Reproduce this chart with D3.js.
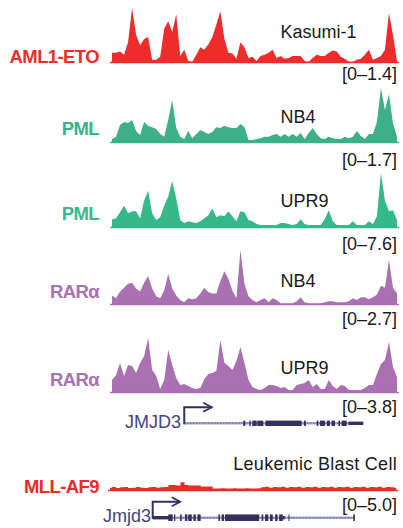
<!DOCTYPE html>
<html>
<head>
<meta charset="utf-8">
<script src="https://cdn.jsdelivr.net/npm/d3@7"></script>
<style>
  body { margin: 0; background: #fff; }
  text { font-family: "Liberation Sans", Arial, Helvetica, sans-serif; }
</style>
</head>
<body>
<svg id="chart" width="403" height="528"></svg>
<script>
// signal per bin, 72 bins across the locus
const aml1EtoKasumi = [0.26,0.26,0.29,0.21,0.53,1.40,0.71,0.45,0.61,0.66,0.08,0.08,0.16,0.87,1.06,0.79,1.24,0.18,0.34,0.05,0.03,0.21,0.40,0.34,0.48,0.66,0.98,1.32,0.61,0.26,0.24,0.11,0.53,0.40,0.13,0.16,
  0.05,0.18,0.21,0.26,0.34,0.13,0.18,0.11,0.13,0.18,0.18,0.18,0.05,0.03,0.13,0.21,0.18,0.18,0.26,0.32,0.29,0.16,0.11,0.03,0.01,0.08,0.11,0.21,0.34,0.08,0.13,0.18,0.34,1.27,0.71,0.05];
const pmlNb4 = [0.12,0.19,0.56,0.65,0.62,0.71,0.37,0.25,0.65,0.53,0.49,0.43,0.28,0.19,0.71,1.33,0.46,0.19,0.12,0.37,0.15,0.28,0.40,0.34,0.28,0.34,0.49,0.46,0.53,0.49,0.46,0.46,0.59,0.49,0.09,0.09,
  0.12,0.15,0.19,0.19,0.25,0.28,0.19,0.28,0.19,0.28,0.19,0.31,0.12,0.31,0.46,0.28,0.15,0.12,0.19,0.15,0.12,0.12,0.19,0.15,0.19,0.37,0.22,0.12,0.28,0.28,0.65,1.70,1.02,1.51,0.62,0.19];
const pmlUpr9 = [1.22,1.36,2.17,3.12,2.04,2.31,2.31,1.36,3.80,5.16,2.04,1.09,1.49,3.12,4.34,6.51,4.07,1.09,0.68,0.95,0.81,0.68,0.95,1.36,1.76,2.71,1.49,1.76,1.63,2.31,1.63,0.95,2.31,2.17,1.09,0.95,
  0.54,0.41,0.41,0.41,0.41,0.41,0.68,0.68,0.54,0.41,0.54,1.22,0.54,0.41,0.41,0.41,0.41,1.22,2.44,0.95,0.41,0.41,0.41,0.41,0.95,0.41,0.41,0.41,0.95,0.54,1.63,7.60,3.80,2.31,2.44,1.09];
const raraNb4 = [0.47,0.33,0.66,0.85,1.04,1.09,0.81,0.66,1.09,1.42,0.81,0.43,0.33,0.71,1.52,0.81,0.47,0.24,0.14,0.33,0.28,0.33,0.57,0.85,0.62,0.57,0.57,1.18,1.66,1.28,0.71,0.33,2.70,1.04,0.43,0.24,
  0.14,0.24,0.33,0.14,0.33,0.24,0.09,0.09,0.09,0.09,0.19,0.38,0.14,0.09,0.09,0.09,0.09,0.14,0.19,0.19,0.14,0.14,0.14,0.19,0.33,0.24,0.38,0.38,0.28,0.38,0.52,0.95,0.85,2.23,0.85,0.57];
const raraUpr9 = [0.90,1.24,2.07,1.17,1.93,1.87,1.38,2.07,2.56,3.80,1.59,1.17,0.28,0.90,2.97,1.93,1.04,0.55,0.62,0.48,0.35,0.28,0.35,0.97,1.31,1.38,1.52,3.66,2.07,1.87,1.59,2.21,3.18,2.07,0.90,0.41,
  0.28,0.21,0.35,0.55,0.55,0.48,0.35,0.41,0.21,0.21,0.55,0.62,0.69,0.90,0.41,0.62,0.28,0.28,0.90,0.48,0.28,0.55,0.48,0.21,0.21,0.21,0.21,0.35,0.55,0.55,1.31,2.00,2.28,3.52,1.80,1.11];
const mllAf9Blast = [0.30,0.36,0.27,0.33,0.36,0.27,0.30,0.36,0.30,0.27,0.33,0.36,0.30,0.33,0.36,0.55,0.55,0.50,0.80,0.55,0.50,0.50,0.50,0.42,0.42,0.42,0.22,0.22,0.25,0.22,0.22,0.25,0.22,0.22,0.25,0.22,
  0.22,0.25,0.33,0.38,0.30,0.36,0.33,0.38,0.30,0.36,0.33,0.38,0.30,0.36,0.33,0.38,0.30,0.36,0.33,0.38,0.30,0.36,0.33,0.38,0.30,0.36,0.33,0.38,0.30,0.36,0.33,0.38,0.30,0.36,0.33,0.30];

const factors = ['AML1-ETO', 'PML', 'PML', 'RARα', 'RARα', 'MLL-AF9'];
const cells = ['Kasumi-1', 'NB4', 'UPR9', 'NB4', 'UPR9', 'Leukemic Blast Cell'];
const rangeMax = [1.4, 1.7, 7.6, 2.7, 3.8, 5.0];
const rangeLabels = ['[0–1.4]', '[0–1.7]', '[0–7.6]', '[0–2.7]', '[0–3.8]', '[0–5.0]'];
const trackValues = [aml1EtoKasumi, pmlNb4, pmlUpr9, raraNb4, raraUpr9, mllAf9Blast];

// gene models, in bin units
const jmjd3Span = [18.5, 63.1];
const jmjd3Exons = [[33.2,33.7],[34.7,35.05],[35.45,36.55],[36.7,38.2],[38.7,47.75],[48.3,48.8],[51.5,51.9],[52.3,53.55],[54.0,54.8],[55.2,56.05],[56.9,57.3],[57.7,58.95]];
const jmjd3Utr = [[59.4,63.1]];
const mouseSpan = [11.1, 61.2];
const mouseExons = [[14.97,16.06],[16.4,16.7],[17.9,18.3],[19.1,19.7],[19.9,20.8],[21.2,21.8],[22.2,23.0],[27.4,27.8],[28.2,28.8],[29.05,37.55],[38.15,38.55],[39.0,39.8],[40.2,40.9],[41.5,42.1],[42.5,43.4],[44.8,45.0],[60.9,61.3]];
const mouseUtr = [[11.1,15.4],[43.4,43.9]];

const colors = ['#ee2c2c', '#3bb089', '#35b98a', '#a971b1', '#a971b1', '#ec2a2a'];
const geneColor = '#33325f';

const svg = d3.select('#chart');
const trackBase = [63, 143, 228, 305, 393, 491];
const labelBase = [62.7, 135, 220, 298, 386, 492.7];
const cellBase = [38.3, 122.7, 206.7, 286.7, 374, 470];
const rangeBase = [79.5, 166, 250, 325.3, 413.3, 510.7];
const trackH = 55;

const xTop = d3.scaleLinear().domain([0, 72]).range([110, 399]);
const xBlast = d3.scaleLinear().domain([0, 72]).range([108, 398]);

trackValues.forEach((vals, t) => {
  const x = t === 5 ? xBlast : xTop;
  const y = d3.scaleLinear().domain([0, rangeMax[t]]).range([trackBase[t], trackBase[t] - trackH]);
  const g = svg.append('g').attr('class', 'track');

  const area = d3.area()
    .curve(t === 5 ? d3.curveStep : d3.curveLinear)
    .x((d, i) => x(i + 0.5))
    .y0(trackBase[t])
    .y1(d => Math.min(y(d), trackBase[t] - 1.2));

  g.append('path')
    .datum(vals)
    .attr('d', area)
    .attr('fill', colors[t]);

  g.append('line')
    .attr('x1', x(0)).attr('x2', x(72))
    .attr('y1', trackBase[t] - 0.5).attr('y2', trackBase[t] - 0.5)
    .attr('stroke', colors[t])
    .attr('stroke-width', 1.5);

  g.append('text')
    .attr('x', 99)
    .attr('y', labelBase[t])
    .attr('text-anchor', 'end')
    .attr('font-weight', 'bold')
    .attr('font-size', '18.5px')
    .attr('letter-spacing', '-0.6px')
    .attr('fill', colors[t])
    .text(factors[t]);

  g.append('text')
    .attr('x', t === 5 ? 397 : 280.5)
    .attr('y', cellBase[t])
    .attr('text-anchor', t === 5 ? 'end' : 'start')
    .attr('font-size', '18px')
    .attr('letter-spacing', t === 5 ? '0.3px' : '0px')
    .attr('fill', '#1a1a1a')
    .text(cells[t]);

  g.append('text')
    .attr('x', 397)
    .attr('y', rangeBase[t])
    .attr('text-anchor', 'end')
    .attr('font-size', '18px')
    .attr('fill', '#1a1a1a')
    .text(rangeLabels[t]);
});

const drawGene = (x, lineY, span, exons, utr, name, exonH, nameX, nameY) => {
  const g = svg.append('g').attr('class', 'gene');
  // intron line
  g.append('line')
    .attr('x1', x(span[0])).attr('x2', x(span[1]))
    .attr('y1', lineY).attr('y2', lineY)
    .attr('stroke', '#a4a4c8').attr('stroke-width', 2.4);
  g.append('line')
    .attr('x1', x(span[0])).attr('x2', x(span[1]))
    .attr('y1', lineY).attr('y2', lineY)
    .attr('stroke', '#6a6a98').attr('stroke-width', 1.4)
    .attr('stroke-dasharray', '1,2');

  g.selectAll('rect.exon')
    .data(exons)
    .join('rect')
    .attr('class', 'exon')
    .attr('x', d => x(d[0]))
    .attr('width', d => Math.max(1, x(d[1]) - x(d[0])))
    .attr('y', lineY - exonH / 2)
    .attr('height', exonH)
    .attr('fill', geneColor);

  g.selectAll('rect.utr')
    .data(utr)
    .join('rect')
    .attr('class', 'utr')
    .attr('x', d => x(d[0]))
    .attr('width', d => x(d[1]) - x(d[0]))
    .attr('y', lineY - 1.7)
    .attr('height', 3.4)
    .attr('fill', geneColor);

  // TSS arrow
  const x0 = x(span[0]);
  g.append('path')
    .attr('d', `M${x0},${lineY + 1}V${lineY - 16}H${x0 + 27}`)
    .attr('fill', 'none')
    .attr('stroke', geneColor)
    .attr('stroke-width', 2);
  g.append('path')
    .attr('d', `M${x0 + 19},${lineY - 20.5}L${x0 + 27.5},${lineY - 16}L${x0 + 19},${lineY - 11.5}`)
    .attr('fill', 'none')
    .attr('stroke', geneColor)
    .attr('stroke-width', 1.8);

  g.append('text')
    .attr('x', nameX)
    .attr('y', nameY)
    .attr('text-anchor', 'end')
    .attr('font-size', '18px')
    .attr('fill', '#45457a')
    .text(name);
};

drawGene(xTop, 423.3, jmjd3Span, jmjd3Exons, jmjd3Utr, 'JMJD3', 5.4, 181, 428.3);
drawGene(xBlast, 517.7, mouseSpan, mouseExons, mouseUtr, 'Jmjd3', 6.6, 151, 521.7);
</script>
</body>
</html>
